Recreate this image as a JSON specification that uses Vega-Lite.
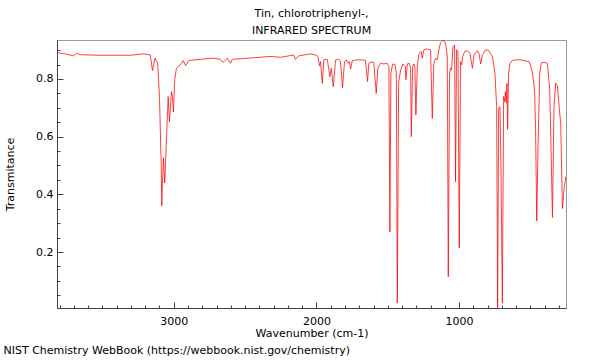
{
  "$schema": "https://vega.github.io/schema/vega-lite/v6.json",
  "width": 509,
  "height": 268,
  "autosize": {"type": "none"},
  "padding": {"left": 57, "top": 40, "right": 34, "bottom": 52},
  "background": "white",
  "config": {
    "font": "DejaVu Sans",
    "view": {"stroke": "#999999", "strokeWidth": 1},
    "axis": {"grid": false, "domainColor": "#444444", "tickColor": "#444444", "labelFont": "DejaVu Sans", "labelFontSize": 11, "labelColor": "#000000", "titleFont": "DejaVu Sans", "titleFontSize": 11, "titleFontWeight": "normal", "titleColor": "#000000"}
  },
  "title": {"text": ["Tin, chlorotriphenyl-,", "INFRARED SPECTRUM"], "font": "DejaVu Sans", "fontSize": 11, "fontWeight": "normal", "color": "#000000", "anchor": "middle", "lineHeight": 17, "offset": 4},
  "data": {"values": [
    {"wn": 3816, "t": 0.891}, {"wn": 3760, "t": 0.887}, {"wn": 3701, "t": 0.880}, {"wn": 3682, "t": 0.889}, {"wn": 3654, "t": 0.884},
    {"wn": 3514, "t": 0.882}, {"wn": 3304, "t": 0.882}, {"wn": 3210, "t": 0.887}, {"wn": 3164, "t": 0.883}, {"wn": 3149, "t": 0.829},
    {"wn": 3131, "t": 0.872}, {"wn": 3112, "t": 0.854}, {"wn": 3100, "t": 0.739}, {"wn": 3088, "t": 0.508}, {"wn": 3084, "t": 0.360},
    {"wn": 3079, "t": 0.439}, {"wn": 3072, "t": 0.527}, {"wn": 3063, "t": 0.439}, {"wn": 3053, "t": 0.565}, {"wn": 3039, "t": 0.739},
    {"wn": 3030, "t": 0.652}, {"wn": 3016, "t": 0.756}, {"wn": 3009, "t": 0.739}, {"wn": 3002, "t": 0.686}, {"wn": 2993, "t": 0.797},
    {"wn": 2981, "t": 0.837}, {"wn": 2953, "t": 0.849}, {"wn": 2934, "t": 0.864}, {"wn": 2916, "t": 0.846}, {"wn": 2895, "t": 0.864},
    {"wn": 2813, "t": 0.868}, {"wn": 2720, "t": 0.872}, {"wn": 2673, "t": 0.868}, {"wn": 2654, "t": 0.857}, {"wn": 2626, "t": 0.872},
    {"wn": 2602, "t": 0.854}, {"wn": 2591, "t": 0.868}, {"wn": 2532, "t": 0.870}, {"wn": 2427, "t": 0.874}, {"wn": 2322, "t": 0.878},
    {"wn": 2252, "t": 0.875}, {"wn": 2159, "t": 0.883}, {"wn": 2147, "t": 0.868}, {"wn": 2124, "t": 0.880}, {"wn": 2041, "t": 0.887},
    {"wn": 2006, "t": 0.883}, {"wn": 1990, "t": 0.878}, {"wn": 1978, "t": 0.845}, {"wn": 1971, "t": 0.860}, {"wn": 1959, "t": 0.785},
    {"wn": 1948, "t": 0.866}, {"wn": 1924, "t": 0.868}, {"wn": 1906, "t": 0.808}, {"wn": 1896, "t": 0.837}, {"wn": 1882, "t": 0.773},
    {"wn": 1866, "t": 0.866}, {"wn": 1843, "t": 0.868}, {"wn": 1831, "t": 0.860}, {"wn": 1817, "t": 0.770}, {"wn": 1803, "t": 0.860},
    {"wn": 1791, "t": 0.866}, {"wn": 1777, "t": 0.854}, {"wn": 1768, "t": 0.860}, {"wn": 1761, "t": 0.834}, {"wn": 1749, "t": 0.863},
    {"wn": 1714, "t": 0.866}, {"wn": 1679, "t": 0.866}, {"wn": 1656, "t": 0.864}, {"wn": 1642, "t": 0.791}, {"wn": 1633, "t": 0.854},
    {"wn": 1614, "t": 0.859}, {"wn": 1598, "t": 0.857}, {"wn": 1581, "t": 0.750}, {"wn": 1570, "t": 0.837}, {"wn": 1551, "t": 0.854},
    {"wn": 1527, "t": 0.852}, {"wn": 1504, "t": 0.854}, {"wn": 1492, "t": 0.843}, {"wn": 1485, "t": 0.270}, {"wn": 1478, "t": 0.820},
    {"wn": 1466, "t": 0.851}, {"wn": 1450, "t": 0.851}, {"wn": 1440, "t": 0.820}, {"wn": 1433, "t": 0.023}, {"wn": 1424, "t": 0.785},
    {"wn": 1410, "t": 0.831}, {"wn": 1394, "t": 0.852}, {"wn": 1377, "t": 0.843}, {"wn": 1373, "t": 0.797}, {"wn": 1363, "t": 0.852},
    {"wn": 1349, "t": 0.854}, {"wn": 1340, "t": 0.837}, {"wn": 1335, "t": 0.600}, {"wn": 1326, "t": 0.843}, {"wn": 1317, "t": 0.852},
    {"wn": 1310, "t": 0.843}, {"wn": 1303, "t": 0.675}, {"wn": 1293, "t": 0.843}, {"wn": 1282, "t": 0.887}, {"wn": 1265, "t": 0.895},
    {"wn": 1258, "t": 0.872}, {"wn": 1247, "t": 0.901}, {"wn": 1223, "t": 0.904}, {"wn": 1200, "t": 0.901}, {"wn": 1188, "t": 0.663},
    {"wn": 1177, "t": 0.854}, {"wn": 1165, "t": 0.872}, {"wn": 1153, "t": 0.866}, {"wn": 1142, "t": 0.901}, {"wn": 1130, "t": 0.926},
    {"wn": 1111, "t": 0.935}, {"wn": 1095, "t": 0.924}, {"wn": 1083, "t": 0.878}, {"wn": 1076, "t": 0.114}, {"wn": 1067, "t": 0.820},
    {"wn": 1060, "t": 0.837}, {"wn": 1053, "t": 0.831}, {"wn": 1043, "t": 0.912}, {"wn": 1032, "t": 0.918}, {"wn": 1025, "t": 0.444},
    {"wn": 1018, "t": 0.901}, {"wn": 1008, "t": 0.895}, {"wn": 999, "t": 0.214}, {"wn": 990, "t": 0.860}, {"wn": 982, "t": 0.849},
    {"wn": 975, "t": 0.878}, {"wn": 961, "t": 0.895}, {"wn": 942, "t": 0.898}, {"wn": 924, "t": 0.889}, {"wn": 907, "t": 0.837},
    {"wn": 896, "t": 0.883}, {"wn": 872, "t": 0.898}, {"wn": 861, "t": 0.889}, {"wn": 849, "t": 0.852}, {"wn": 837, "t": 0.883},
    {"wn": 814, "t": 0.901}, {"wn": 791, "t": 0.898}, {"wn": 767, "t": 0.878}, {"wn": 749, "t": 0.820}, {"wn": 737, "t": 0.704},
    {"wn": 730, "t": 0.007}, {"wn": 723, "t": 0.698}, {"wn": 714, "t": 0.704}, {"wn": 707, "t": 0.507}, {"wn": 697, "t": 0.023},
    {"wn": 688, "t": 0.739}, {"wn": 681, "t": 0.721}, {"wn": 676, "t": 0.756}, {"wn": 669, "t": 0.716}, {"wn": 665, "t": 0.785},
    {"wn": 660, "t": 0.625}, {"wn": 653, "t": 0.820}, {"wn": 644, "t": 0.854}, {"wn": 627, "t": 0.864}, {"wn": 604, "t": 0.866},
    {"wn": 569, "t": 0.866}, {"wn": 510, "t": 0.860}, {"wn": 487, "t": 0.825}, {"wn": 471, "t": 0.762}, {"wn": 464, "t": 0.623},
    {"wn": 456, "t": 0.308}, {"wn": 447, "t": 0.565}, {"wn": 435, "t": 0.820}, {"wn": 424, "t": 0.856}, {"wn": 405, "t": 0.858},
    {"wn": 381, "t": 0.854}, {"wn": 365, "t": 0.762}, {"wn": 356, "t": 0.565}, {"wn": 346, "t": 0.320}, {"wn": 335, "t": 0.704},
    {"wn": 323, "t": 0.785}, {"wn": 311, "t": 0.776}, {"wn": 297, "t": 0.692}, {"wn": 288, "t": 0.646}, {"wn": 276, "t": 0.351},
    {"wn": 265, "t": 0.415}, {"wn": 253, "t": 0.461}
  ]},
  "layer": [
    {
      "mark": {"type": "line", "stroke": "#ff0000", "strokeWidth": 1, "strokeOpacity": 0.75, "clip": true},
      "encoding": {
        "x": {"field": "wn", "type": "quantitative",
              "scale": {"domain": [251, 3818], "reverse": true, "zero": false, "nice": false},
              "axis": {"orient": "bottom", "values": [1000, 2000, 3000], "format": "d", "tickSize": -6, "labelPadding": 13, "title": "Wavenumber (cm-1)", "titlePadding": 1}},
        "y": {"field": "t", "type": "quantitative",
              "scale": {"domain": [0.006, 0.935], "zero": false, "nice": false},
              "axis": {"orient": "left", "values": [0.2, 0.4, 0.6, 0.8], "format": ".1f", "tickSize": -6, "labelPadding": 10, "title": "Transmitance", "titlePadding": 20}}
      }
    },
    {
      "mark": {"type": "line", "opacity": 0},
      "encoding": {
        "x": {"field": "wn", "type": "quantitative",
              "axis": {"orient": "bottom", "values": [300, 400, 500, 600, 700, 800, 900, 1100, 1200, 1300, 1400, 1500, 1600, 1700, 1800, 1900, 2100, 2200, 2300, 2400, 2500, 2600, 2700, 2800, 2900, 3100, 3200, 3300, 3400, 3500, 3600, 3700, 3800], "labels": false, "domain": false, "tickSize": -3, "title": "NIST Chemistry WebBook (https://webbook.nist.gov/chemistry)", "titleAnchor": "start", "titleAlign": "left", "titleX": -54, "titleY": 42, "titleBaseline": "middle"}},
        "y": {"field": "t", "type": "quantitative",
              "axis": {"orient": "left", "values": [0.05, 0.1, 0.15, 0.25, 0.3, 0.35, 0.45, 0.5, 0.55, 0.65, 0.7, 0.75, 0.85, 0.9], "labels": false, "domain": false, "tickSize": -3, "title": null}}
      }
    }
  ],
  "resolve": {"axis": {"x": "independent", "y": "independent"}}
}
